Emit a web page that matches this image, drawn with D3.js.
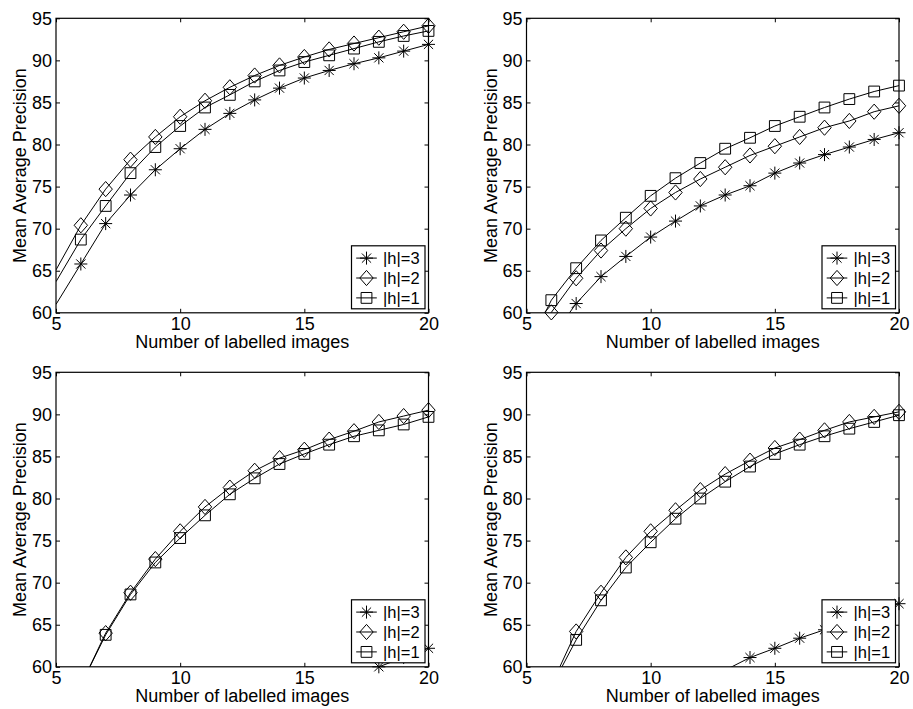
<!DOCTYPE html>
<html>
<head>
<meta charset="utf-8">
<script src="https://cdn.jsdelivr.net/npm/d3@7"></script>
<style>
  html, body { margin: 0; padding: 0; background: #fff; }
  svg { display: block; }
  text { font-family: "Liberation Sans", Arial, Helvetica, sans-serif; fill: #000; }
</style>
</head>
<body>
<svg id="chart" width="913" height="709"></svg>
<script>
// Number of labelled images (x values shared by every series)
const counts = [5, 6, 7, 8, 9, 10, 11, 12, 13, 14, 15, 16, 17, 18, 19, 20];

// Mean average precision per hierarchy depth, one set of series per panel
const topLeftH3 = [61.0, 65.8, 70.6, 74.0, 77.0, 79.5, 81.8, 83.7, 85.3, 86.7, 87.9, 88.8, 89.6, 90.3, 91.1, 91.9];
const topLeftH2 = [65.1, 70.4, 74.7, 78.2, 80.9, 83.3, 85.2, 86.8, 88.2, 89.4, 90.4, 91.3, 92.0, 92.7, 93.4, 94.1];
const topLeftH1 = [63.7, 68.7, 72.7, 76.6, 79.7, 82.2, 84.4, 85.9, 87.5, 88.8, 89.8, 90.6, 91.4, 92.2, 92.9, 93.5];

const topRightH3 = [null, 57.0, 61.1, 64.3, 66.7, 69.0, 70.9, 72.7, 74.0, 75.1, 76.6, 77.8, 78.8, 79.7, 80.6, 81.4];
const topRightH2 = [54.0, 60.05, 64.1, 67.4, 70.0, 72.4, 74.3, 75.9, 77.3, 78.7, 79.8, 80.9, 82.0, 82.8, 83.9, 84.6];
const topRightH1 = [55.5, 61.5, 65.3, 68.6, 71.3, 73.9, 76.0, 77.8, 79.5, 80.8, 82.2, 83.3, 84.4, 85.4, 86.3, 87.0];

const bottomLeftH3 = [null, null, null, null, null, null, null, null, null, null, null, null, 58.8, 60.0, 61.1, 62.2];
const bottomLeftH2 = [null, 57.8, 64.0, 68.8, 72.8, 76.1, 79.0, 81.3, 83.3, 84.8, 85.8, 87.0, 88.0, 89.1, 89.8, 90.5];
const bottomLeftH1 = [null, 57.8, 63.8, 68.6, 72.4, 75.3, 78.0, 80.5, 82.4, 84.1, 85.3, 86.4, 87.4, 88.1, 88.8, 89.7];

const bottomRightH3 = [null, null, null, null, null, null, null, null, 59.6, 61.1, 62.2, 63.4, 64.4, 65.4, 66.4, 67.5];
const bottomRightH2 = [null, 57.8, 64.2, 68.8, 73.0, 76.1, 78.6, 81.0, 82.9, 84.5, 86.0, 87.0, 88.1, 89.1, 89.7, 90.3];
const bottomRightH1 = [null, 57.6, 63.2, 67.9, 71.8, 74.8, 77.6, 80.0, 82.0, 83.8, 85.3, 86.4, 87.4, 88.3, 89.1, 89.9];

// Axis ticks and labels
const xTicks = [5, 10, 15, 20];
const yTicks = [60, 65, 70, 75, 80, 85, 90, 95];
const xDomain = [5, 20];
const yDomain = [60, 95];
const seriesLabels = ["|h|=3", "|h|=2", "|h|=1"];
const seriesMarkers = ["star", "diamond", "square"];
const xTitle = "Number of labelled images";
const yTitle = "Mean Average Precision";

const panels = [
  { left: 56,    top: 18.3,  series: [topLeftH3, topLeftH2, topLeftH1] },
  { left: 526.5, top: 18.3,  series: [topRightH3, topRightH2, topRightH1] },
  { left: 56,    top: 372.3, series: [bottomLeftH3, bottomLeftH2, bottomLeftH1] },
  { left: 526.5, top: 372.3, series: [bottomRightH3, bottomRightH2, bottomRightH1] }
];
const plotW = 372.5, plotH = 294.5;

const svg = d3.select("#chart");

function markerPath(kind) {
  if (kind === "star") {
    const r = 6.5, d = r * 0.7071;
    return `M${-r},0L${r},0M0,${-r}L0,${r}M${-d},${-d}L${d},${d}M${-d},${d}L${d},${-d}`;
  }
  if (kind === "diamond") {
    const w = 6.7, h = 7.6;
    return `M0,${-h}L${w},0L0,${h}L${-w},0Z`;
  }
  const s = 5.4;
  return `M${-s},${-s}L${s},${-s}L${s},${s}L${-s},${s}Z`;
}

panels.forEach((p, i) => {
  const g = svg.append("g").attr("transform", `translate(${p.left},${p.top})`);
  const x = d3.scaleLinear().domain(xDomain).range([0, plotW]);
  const y = d3.scaleLinear().domain(yDomain).range([plotH, 0]);

  const clipId = `plot-clip-${i}`;
  g.append("clipPath").attr("id", clipId)
    .append("rect").attr("width", plotW).attr("height", plotH);

  // Inward ticks on all four sides, labels on bottom and left
  const tickLen = 4;
  const bottomAxis = d3.axisBottom(x).tickValues(xTicks).tickSize(-tickLen).tickPadding(6).tickFormat(d3.format("d"));
  const topAxis = d3.axisTop(x).tickValues(xTicks).tickSize(-tickLen).tickFormat("");
  const leftAxis = d3.axisLeft(y).tickValues(yTicks).tickSize(-tickLen).tickPadding(4).tickFormat(d3.format("d"));
  const rightAxis = d3.axisRight(y).tickValues(yTicks).tickSize(-tickLen).tickFormat("");

  const styleAxis = sel => {
    sel.select(".domain").remove();
    sel.selectAll("line").attr("stroke", "#000").attr("stroke-width", 1);
    sel.selectAll("text").attr("font-size", 18).attr("fill", "#000")
      .attr("font-family", '"Liberation Sans", Arial, Helvetica, sans-serif');
  };
  g.append("g").attr("transform", `translate(0,${plotH})`).call(bottomAxis).call(styleAxis)
    .selectAll("text").attr("dy", "0.6em");
  g.append("g").call(topAxis).call(styleAxis);
  g.append("g").call(leftAxis).call(styleAxis);
  g.append("g").attr("transform", `translate(${plotW},0)`).call(rightAxis).call(styleAxis);

  // Series lines (clipped to the plot window)
  const lineGen = d3.line()
    .defined(d => d.v !== null)
    .x(d => x(d.n)).y(d => y(d.v));
  const plotG = g.append("g");
  p.series.forEach((vals, k) => {
    const pts = counts.map((n, j) => ({ n, v: vals[j] }));
    plotG.append("path")
      .attr("clip-path", `url(#${clipId})`)
      .attr("d", lineGen(pts))
      .attr("fill", "none").attr("stroke", "#000").attr("stroke-width", 1);
  });
  // Markers for samples inside the plot window
  p.series.forEach((vals, k) => {
    const pts = counts.map((n, j) => ({ n, v: vals[j] }))
      .filter(d => d.v !== null && d.n > xDomain[0] && d.v >= yDomain[0] && d.v <= yDomain[1]);
    plotG.selectAll(null).data(pts).enter().append("path")
      .attr("transform", d => `translate(${x(d.n)},${y(d.v)})`)
      .attr("d", markerPath(seriesMarkers[k]))
      .attr("fill", "none").attr("stroke", "#000").attr("stroke-width", 1);
  });

  // Frame
  g.append("rect").attr("width", plotW).attr("height", plotH)
    .attr("fill", "none").attr("stroke", "#000").attr("stroke-width", 1.2);

  // Axis titles
  g.append("text")
    .attr("x", plotW / 2).attr("y", plotH + 35)
    .attr("text-anchor", "middle").attr("font-size", 18)
    .text(xTitle);
  g.append("text")
    .attr("transform", `translate(${-30},${plotH / 2}) rotate(-90)`)
    .attr("text-anchor", "middle").attr("font-size", 18)
    .text(yTitle);

  // Legend box in the lower-right corner
  const legW = 73.5, legH = 63;
  const lg = g.append("g").attr("transform", `translate(${plotW - legW - 3.5},${plotH - legH - 4})`);
  lg.append("rect").attr("width", legW).attr("height", legH)
    .attr("fill", "#fff").attr("stroke", "#000").attr("stroke-width", 1.2);
  seriesLabels.forEach((lab, k) => {
    const cy = 12.3 + k * 19.9;
    lg.append("line").attr("x1", 4.7).attr("x2", 25.3).attr("y1", cy).attr("y2", cy)
      .attr("stroke", "#000").attr("stroke-width", 1);
    lg.append("path").attr("transform", `translate(15,${cy})`)
      .attr("d", markerPath(seriesMarkers[k]))
      .attr("fill", "none").attr("stroke", "#000").attr("stroke-width", 1);
    lg.append("text").attr("x", 31.5).attr("y", cy).attr("dy", "0.36em")
      .attr("font-size", 16.5).text(lab);
  });
});
</script>
</body>
</html>
